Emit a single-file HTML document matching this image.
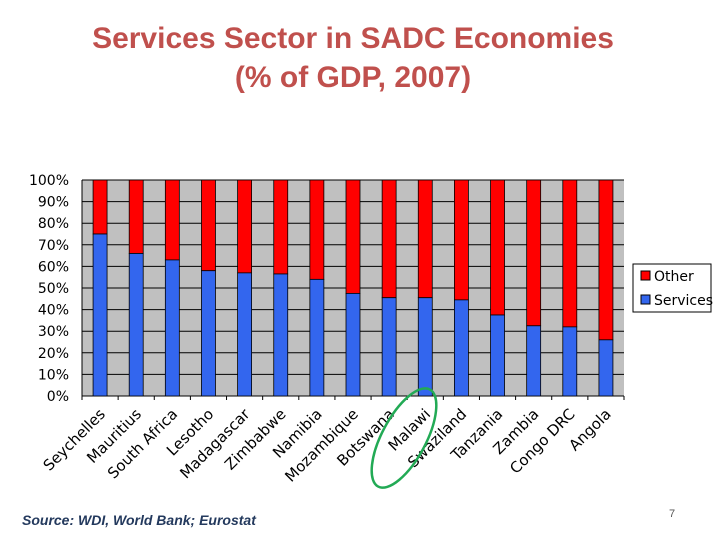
<!DOCTYPE html>
<html><head><meta charset="utf-8">
<style>
body{margin:0;background:#fff;width:720px;height:540px;overflow:hidden;position:relative;font-family:"Liberation Sans",sans-serif}
.title{position:absolute;left:0;width:706px;top:19px;text-align:center;color:#c0504d;font-weight:bold;font-size:30px;line-height:39px}
.src{position:absolute;left:22px;top:512px;font-style:italic;font-weight:bold;font-size:14px;color:#23395d}
.pg{position:absolute;left:669px;top:508px;font-size:11px;color:#555}
svg{position:absolute;left:0;top:0}
</style></head><body>
<div class="title">Services Sector in SADC Economies<br>(% of GDP, 2007)</div>
<svg width="720" height="540" id="chart"></svg>
<div class="src">Source: WDI, World Bank; Eurostat</div>
<div class="pg">7</div>
<script>
const categories=["Seychelles","Mauritius","South Africa","Lesotho","Madagascar","Zimbabwe","Namibia","Mozambique","Botswana","Malawi","Swaziland","Tanzania","Zambia","Congo DRC","Angola"];
const services=[75,66,63,58,57,56.5,54,47.5,45.5,45.5,44.5,37.5,32.5,32,26];
const yTicks=[0,10,20,30,40,50,60,70,80,90,100];
const NS="http://www.w3.org/2000/svg";
const svg=document.getElementById('chart');
const L=82,R=624,T=180,B=396,BW=14;
const cw=(R-L)/categories.length;
const y=v=>B-(B-T)*v/100;
const xc=i=>L+cw*(i+0.5);
function mk(t,a,p){const e=document.createElementNS(NS,t);for(const k in a)e.setAttribute(k,a[k]);(p||svg).appendChild(e);return e;}
const bg=mk('rect',{x:L,y:T,width:R-L,height:B-T,fill:'#c0c0c0'});


yTicks.forEach(t=>{
  const g=mk('line',{x1:L,x2:R,y1:y(t),y2:y(t),stroke:'#000','stroke-width':1});
  
  
  const tx=mk('text',{x:L-13,y:y(t)+5,'text-anchor':'end','font-size':14,'font-family':'DejaVu Sans, sans-serif',fill:'#000'});
  tx.textContent=t+'%';
  
  
});
mk('line',{x1:L,x2:L,y1:T,y2:B,stroke:'#000'});
mk('line',{x1:L,x2:R,y1:B,y2:B,stroke:'#000'});
for(let i=0;i<=categories.length;i++){mk('line',{x1:L+cw*i,x2:L+cw*i,y1:B,y2:B+4,stroke:'#000'});}
categories.forEach((c,i)=>{
  const x=xc(i)-BW/2;
  const o=mk('rect',{x:x,y:T,width:BW,height:y(services[i])-T,fill:'#ff0000',stroke:'#000','stroke-width':0.8});
  
  
  const s=mk('rect',{x:x,y:y(services[i]),width:BW,height:B-y(services[i]),fill:'#3366ee',stroke:'#000','stroke-width':0.8});
  
  
  const ax=xc(i)+6, ay=415;
  const tx=mk('text',{x:ax,y:ay,'text-anchor':'end','font-size':15,'font-family':'DejaVu Sans, sans-serif',fill:'#000',transform:`rotate(-45 ${ax} ${ay})`});
  tx.textContent=c;
  
  
});
const lg=mk('g',{});


mk('rect',{x:633,y:264,width:78,height:48,fill:'#fff',stroke:'#000'},lg);
mk('rect',{x:641,y:271,width:9,height:9,fill:'#ff0000',stroke:'#000'},lg);
mk('rect',{x:641,y:295,width:9,height:9,fill:'#3366ee',stroke:'#000'},lg);
const t1=mk('text',{x:654,y:281,'font-size':14,'font-family':'DejaVu Sans, sans-serif'},lg);t1.textContent='Other';


const t2=mk('text',{x:654,y:305,'font-size':14,'font-family':'DejaVu Sans, sans-serif'},lg);t2.textContent='Services';


const el=mk('ellipse',{cx:404,cy:438,rx:22,ry:55,fill:'none',stroke:'#22aa55','stroke-width':2.5,transform:'rotate(28 404 438)'});


</script>
</body></html>
